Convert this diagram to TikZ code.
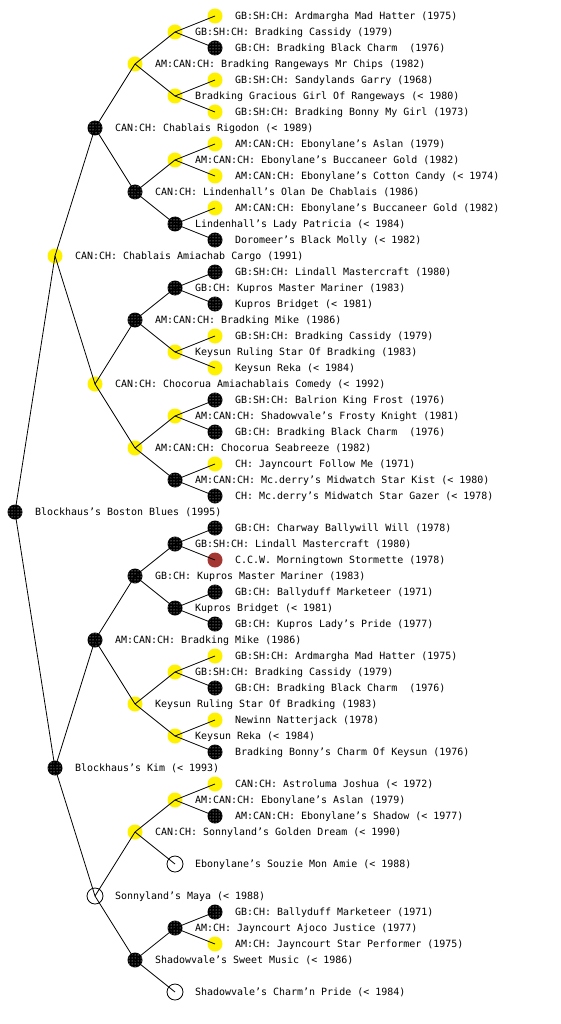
\documentclass[tikz,border=0pt]{standalone}
\usepackage{fontspec}
\setmainfont{DejaVu Sans Mono}
\usetikzlibrary{patterns}
\newcommand\pn[5]{%
  \node[#4] (n#1) at ({15+40*#2},#3) {};
  \node[lbl] (t#1) at ({35+40*#2},{#3+3.8}) {#5};}
\begin{document}
\begin{tikzpicture}[x=1pt,y=-1pt,
  yel/.style={circle,inner sep=0,minimum size=15pt,fill=yellow},
  blk/.style={circle,inner sep=0,minimum size=15pt,fill=black,postaction={pattern=dots,pattern color=white}},
  redc/.style={circle,inner sep=0,minimum size=15pt,fill={rgb,255:red,165;green,55;blue,50}},
  opn/.style={circle,inner sep=0,minimum size=16pt,draw=black,line width=0.8pt,fill=white},
  lbl/.style={anchor=base west,inner sep=0,font=\fontsize{9.97}{12}\selectfont},
  edge/.style={line width=0.8pt,black}]
\useasboundingbox (0,0) rectangle (560,1024);
\pn{1}{0}{512}{blk}{Blockhaus's Boston Blues (1995)}
\pn{2}{1}{256}{yel}{CAN:CH: Chablais Amiachab Cargo (1991)}
\pn{3}{1}{768}{blk}{Blockhaus's Kim (< 1993)}
\pn{4}{2}{128}{blk}{CAN:CH: Chablais Rigodon (< 1989)}
\pn{5}{2}{384}{yel}{CAN:CH: Chocorua Amiachablais Comedy (< 1992)}
\pn{6}{2}{640}{blk}{AM:CAN:CH: Bradking Mike (1986)}
\pn{7}{2}{896}{opn}{Sonnyland's Maya (< 1988)}
\pn{8}{3}{64}{yel}{AM:CAN:CH: Bradking Rangeways Mr Chips (1982)}
\pn{9}{3}{192}{blk}{CAN:CH: Lindenhall's Olan De Chablais (1986)}
\pn{10}{3}{320}{blk}{AM:CAN:CH: Bradking Mike (1986)}
\pn{11}{3}{448}{yel}{AM:CAN:CH: Chocorua Seabreeze (1982)}
\pn{12}{3}{576}{blk}{GB:CH: Kupros Master Mariner (1983)}
\pn{13}{3}{704}{yel}{Keysun Ruling Star Of Bradking (1983)}
\pn{14}{3}{832}{yel}{CAN:CH: Sonnyland's Golden Dream (< 1990)}
\pn{15}{3}{960}{blk}{Shadowvale's Sweet Music (< 1986)}
\pn{16}{4}{32}{yel}{GB:SH:CH: Bradking Cassidy (1979)}
\pn{17}{4}{96}{yel}{Bradking Gracious Girl Of Rangeways (< 1980)}
\pn{18}{4}{160}{yel}{AM:CAN:CH: Ebonylane's Buccaneer Gold (1982)}
\pn{19}{4}{224}{blk}{Lindenhall's Lady Patricia (< 1984)}
\pn{20}{4}{288}{blk}{GB:CH: Kupros Master Mariner (1983)}
\pn{21}{4}{352}{yel}{Keysun Ruling Star Of Bradking (1983)}
\pn{22}{4}{416}{yel}{AM:CAN:CH: Shadowvale's Frosty Knight (1981)}
\pn{23}{4}{480}{blk}{AM:CAN:CH: Mc.derry's Midwatch Star Kist (< 1980)}
\pn{24}{4}{544}{blk}{GB:SH:CH: Lindall Mastercraft (1980)}
\pn{25}{4}{608}{blk}{Kupros Bridget (< 1981)}
\pn{26}{4}{672}{yel}{GB:SH:CH: Bradking Cassidy (1979)}
\pn{27}{4}{736}{yel}{Keysun Reka (< 1984)}
\pn{28}{4}{800}{yel}{AM:CAN:CH: Ebonylane's Aslan (1979)}
\pn{29}{4}{864}{opn}{Ebonylane's Souzie Mon Amie (< 1988)}
\pn{30}{4}{928}{blk}{AM:CH: Jayncourt Ajoco Justice (1977)}
\pn{31}{4}{992}{opn}{Shadowvale's Charm'n Pride (< 1984)}
\pn{32}{5}{16}{yel}{GB:SH:CH: Ardmargha Mad Hatter (1975)}
\pn{33}{5}{48}{blk}{GB:CH: Bradking Black Charm~ (1976)}
\pn{34}{5}{80}{yel}{GB:SH:CH: Sandylands Garry (1968)}
\pn{35}{5}{112}{yel}{GB:SH:CH: Bradking Bonny My Girl (1973)}
\pn{36}{5}{144}{yel}{AM:CAN:CH: Ebonylane's Aslan (1979)}
\pn{37}{5}{176}{yel}{AM:CAN:CH: Ebonylane's Cotton Candy (< 1974)}
\pn{38}{5}{208}{yel}{AM:CAN:CH: Ebonylane's Buccaneer Gold (1982)}
\pn{39}{5}{240}{blk}{Doromeer's Black Molly (< 1982)}
\pn{40}{5}{272}{blk}{GB:SH:CH: Lindall Mastercraft (1980)}
\pn{41}{5}{304}{blk}{Kupros Bridget (< 1981)}
\pn{42}{5}{336}{yel}{GB:SH:CH: Bradking Cassidy (1979)}
\pn{43}{5}{368}{yel}{Keysun Reka (< 1984)}
\pn{44}{5}{400}{blk}{GB:SH:CH: Balrion King Frost (1976)}
\pn{45}{5}{432}{blk}{GB:CH: Bradking Black Charm~ (1976)}
\pn{46}{5}{464}{yel}{CH: Jayncourt Follow Me (1971)}
\pn{47}{5}{496}{blk}{CH: Mc.derry's Midwatch Star Gazer (< 1978)}
\pn{48}{5}{528}{blk}{GB:CH: Charway Ballywill Will (1978)}
\pn{49}{5}{560}{redc}{C.C.W. Morningtown Stormette (1978)}
\pn{50}{5}{592}{blk}{GB:CH: Ballyduff Marketeer (1971)}
\pn{51}{5}{624}{blk}{GB:CH: Kupros Lady's Pride (1977)}
\pn{52}{5}{656}{yel}{GB:SH:CH: Ardmargha Mad Hatter (1975)}
\pn{53}{5}{688}{blk}{GB:CH: Bradking Black Charm~ (1976)}
\pn{54}{5}{720}{yel}{Newinn Natterjack (1978)}
\pn{55}{5}{752}{blk}{Bradking Bonny's Charm Of Keysun (1976)}
\pn{56}{5}{784}{yel}{CAN:CH: Astroluma Joshua (< 1972)}
\pn{57}{5}{816}{blk}{AM:CAN:CH: Ebonylane's Shadow (< 1977)}
\pn{60}{5}{912}{blk}{GB:CH: Ballyduff Marketeer (1971)}
\pn{61}{5}{944}{yel}{AM:CH: Jayncourt Star Performer (1975)}
\foreach \c in {2,...,57,60,61}{%
  \pgfmathtruncatemacro\p{\c/2}
  \draw[edge] (n\p.center) -- (n\c.center);}
\end{tikzpicture}
\end{document}
